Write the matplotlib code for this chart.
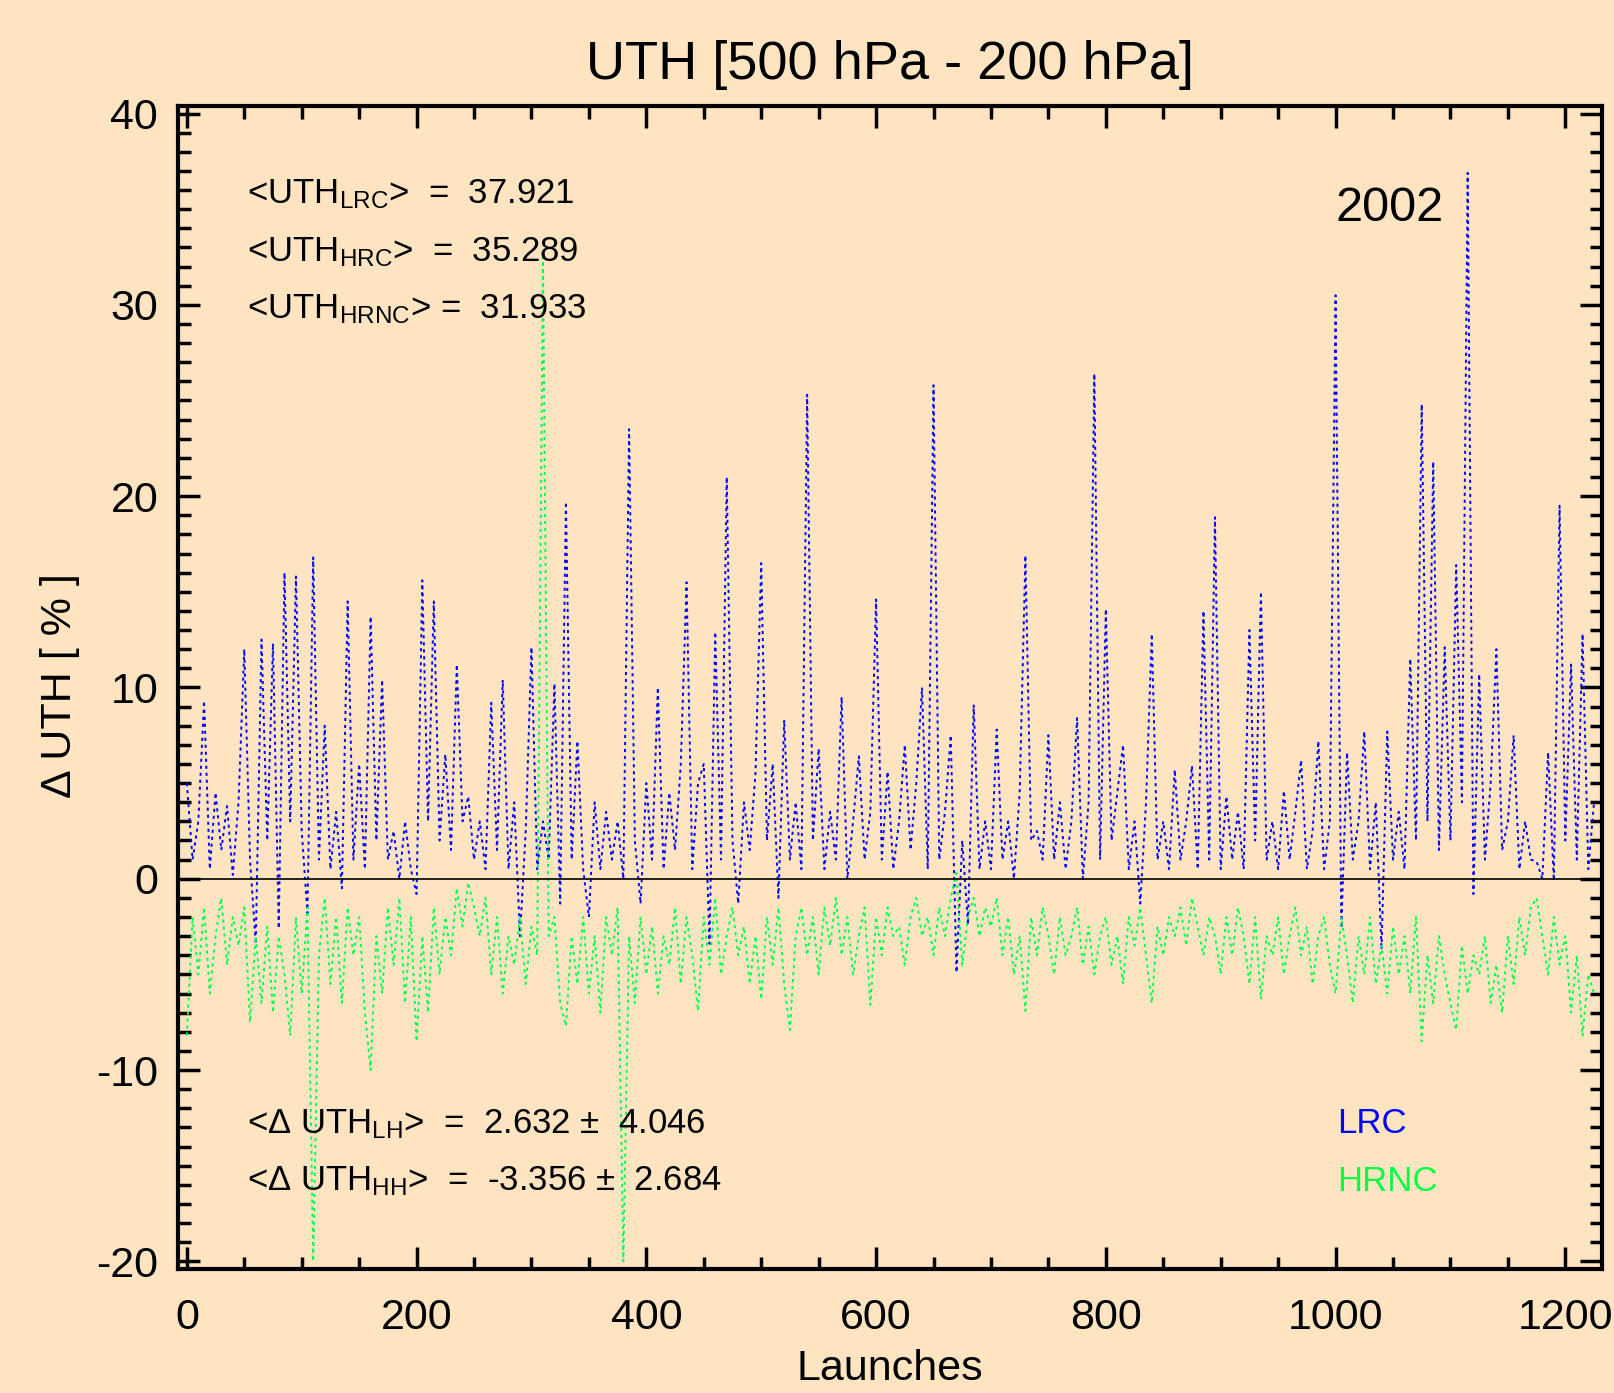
import numpy as np
import matplotlib.pyplot as plt
from matplotlib.ticker import MultipleLocator

plt.rcParams['font.family'] = ['Liberation Sans Narrow', 'Liberation Sans', 'DejaVu Sans']
plt.rcParams['mathtext.default'] = 'regular'
plt.rcParams['axes.unicode_minus'] = False

# Delta UTH (LRC - H), one value every 5 launches
d_lrc = [
    5.0, 1.0, 3.0, 9.3, 0.5, 4.5, 1.5, 3.8, 0.2, 4.0,
    12.0, 1.0, -3.4, 12.5, 2.0, 12.3, -2.6, 16.0, 3.0, 15.8,
    2.5, -1.8, 16.8, 1.0, 8.0, 0.5, 3.5, -0.5, 14.5, 1.0,
    6.0, 0.5, 13.7, 2.0, 10.4, 1.0, 2.5, 0.0, 3.0, 0.5,
    -0.8, 15.6, 3.0, 14.5, 2.0, 6.5, 1.5, 11.2, 3.0, 4.3,
    1.0, 3.0, 0.5, 9.2, 1.5, 10.4, 0.5, 4.0, -3.0, 2.5,
    12.1, 0.5, 3.0, 1.0, 10.2, -1.3, 19.7, 1.0, 7.2, 0.5,
    -2.0, 4.0, 0.5, 3.5, 1.0, 3.0, 0.0, 23.5, 2.0, -1.3,
    5.0, 1.0, 10.0, 0.5, 4.5, 1.5, 6.0, 15.5, 0.5, 5.0,
    6.0, -3.4, 12.9, 1.0, 21.0, 2.0, -1.3, 4.0, 1.5, 5.5,
    16.5, 2.0, 6.0, -1.0, 8.3, 1.0, 4.0, 0.5, 25.3, 2.0,
    6.8, 0.5, 3.5, 1.0, 9.5, 0.0, 3.0, 6.4, 1.0, 3.5,
    14.6, 1.0, 5.6, 0.5, 3.0, 7.0, 1.5, 5.0, 10.0, 0.5,
    25.8, 1.0, 3.5, 7.5, -4.9, 2.0, -2.4, 9.1, 0.5, 3.0,
    0.5, 7.8, 1.0, 3.0, 0.0, 4.5, 16.9, 2.0, 2.5, 1.0,
    7.5, 1.0, 4.0, 0.5, 3.0, 8.4, 0.0, 4.0, 26.4, 1.0,
    14.1, 2.0, 4.5, 7.0, 0.5, 3.0, -1.3, 4.0, 12.8, 1.0,
    3.0, 0.5, 5.7, 1.0, 3.0, 5.9, 0.5, 14.0, 1.0, 18.9,
    0.5, 4.3, 1.0, 3.5, 0.5, 13.0, 2.0, 15.0, 1.0, 3.0,
    0.5, 4.6, 1.0, 3.5, 6.2, 0.5, 2.5, 7.2, 0.5, 3.0,
    30.5, -2.6, 6.6, 1.0, 3.0, 7.7, 0.5, 4.0, -3.7, 7.7,
    1.0, 3.5, 0.5, 11.5, 2.0, 24.8, 3.0, 21.8, 1.5, 12.1,
    2.0, 16.4, 4.0, 36.9, -0.8, 10.7, 1.0, 5.0, 12.0, 1.5,
    3.0, 7.5, 0.5, 3.0, 1.0, 0.9, 0.0, 6.6, -0.1, 19.5,
    2.0, 11.2, 1.0, 12.8, 0.5, 4.0,
]

# Delta UTH (HRNC - H)
d_hrnc = [
    -8.2, -2.0, -5.0, -1.5, -6.0, -3.0, -1.0, -4.5, -2.0, -3.5,
    -1.5, -7.5, -3.0, -6.5, -2.5, -7.0, -3.0, -5.0, -8.2, -2.0,
    -6.0, -1.5, -20.0, -4.0, -1.0, -5.5, -2.0, -6.5, -1.5, -4.0,
    -2.0, -7.0, -10.0, -3.0, -6.0, -1.5, -4.5, -1.0, -6.5, -2.0,
    -8.5, -3.0, -7.0, -1.5, -5.0, -2.0, -4.0, -0.5, -2.5, -0.2,
    -1.5, -3.0, -1.0, -5.0, -2.0, -6.0, -3.0, -4.5, -2.0, -5.5,
    -2.5, -4.0, 32.5, -3.0, -2.0, -6.5, -7.7, -3.0, -5.5, -2.0,
    -6.0, -3.0, -7.0, -2.0, -4.0, -1.5, -20.0, -3.0, -6.5, -2.0,
    -5.0, -2.5, -6.0, -3.0, -4.5, -1.5, -5.5, -2.0, -4.0, -6.9,
    -2.0, -4.5, -1.0, -5.0, -3.0, -1.5, -4.0, -2.5, -5.5, -3.0,
    -6.3, -2.0, -4.5, -1.5, -5.5, -7.9, -3.0, -1.5, -4.0, -2.0,
    -5.0, -1.5, -3.5, -1.0, -4.0, -2.0, -5.0, -3.0, -1.5, -6.6,
    -2.0, -4.0, -1.5, -3.0, -2.5, -4.5, -2.0, -1.0, -3.0, -2.0,
    -4.0, -1.5, -3.0, -1.0, 0.3, -4.5, -2.0, -1.0, -3.0, -1.5,
    -2.5, -1.0, -4.0, -2.0, -5.0, -3.0, -6.9, -2.0, -4.0, -1.5,
    -3.0, -5.0, -2.0, -4.0, -3.0, -1.5, -4.5, -2.5, -5.0, -3.0,
    -2.0, -4.5, -3.0, -5.5, -2.0, -3.5, -1.5, -4.0, -6.5, -2.5,
    -4.0, -2.0, -3.0, -1.5, -3.5, -1.0, -2.5, -4.0, -2.0, -3.0,
    -5.0, -2.0, -4.0, -1.5, -3.0, -5.5, -2.0, -6.3, -3.0, -4.0,
    -2.0, -5.0, -3.0, -1.5, -4.0, -2.5, -5.5, -3.0, -2.0, -4.5,
    -6.0, -2.0, -4.0, -6.5, -3.0, -5.0, -2.0, -5.5, -3.5, -6.0,
    -2.5, -5.0, -3.0, -6.0, -2.0, -8.5, -4.0, -6.5, -3.0, -5.0,
    -6.5, -7.9, -3.5, -6.0, -4.0, -5.0, -3.0, -6.5, -4.5, -7.0,
    -3.0, -5.5, -2.0, -4.0, -1.5, -1.0, -3.0, -5.0, -2.0, -4.5,
    -3.0, -7.0, -4.0, -8.2, -5.0, -6.0,
]

launches = np.arange(len(d_lrc)) * 5

stats_top = ['<UTH$_{LRC}$>  =  37.921',
             '<UTH$_{HRC}$>  =  35.289',
             '<UTH$_{HRNC}$> =  31.933']
stats_bot = ['<\u0394 UTH$_{LH}$>  =  2.632 \u00b1  4.046',
             '<\u0394 UTH$_{HH}$>  =  -3.356 \u00b1  2.684']

bg = '#ffe4c2'
blue = '#0000ff'
green = '#00ff50'

fig = plt.figure(figsize=(16.15, 13.93), dpi=100, facecolor=bg)
ax = fig.add_axes([0.110, 0.089, 0.882, 0.835])
ax.set_facecolor(bg)

ax.plot(launches, d_lrc, color=blue, lw=1.4, linestyle=(0, (1.6, 2.0)))
ax.plot(launches, d_hrnc, color=green, lw=1.4, linestyle=(0, (1.6, 2.0)))
ax.axhline(0, color='black', lw=1.2, zorder=5)

ax.set_xlim(-8, 1232)
ax.set_ylim(-20.4, 40.4)
ax.xaxis.set_major_locator(MultipleLocator(200))
ax.xaxis.set_minor_locator(MultipleLocator(50))
ax.yaxis.set_major_locator(MultipleLocator(10))
ax.yaxis.set_minor_locator(MultipleLocator(1))
ax.tick_params(which='both', direction='in', top=True, right=True, width=2.5,
               labelsize=31)
ax.tick_params(which='major', length=16, pad=14)
ax.tick_params(axis='x', which='major', pad=21)
ax.tick_params(which='minor', length=9)
for s in ax.spines.values():
    s.set_linewidth(3)

ax.set_title('UTH [500 hPa - 200 hPa]', fontsize=39, pad=19)
ax.set_xlabel('Launches', fontsize=31, labelpad=8)
fig.text(0.037, 0.508, '\u0394 UTH [ % ]', fontsize=31, rotation=90,
         ha='center', va='center')

for i, t in enumerate(stats_top):
    ax.text(52, 35.3 - 3.0 * i, t, fontsize=25)
for i, t in enumerate(stats_bot):
    ax.text(52, -13.3 - 3.0 * i, t, fontsize=25)

ax.text(1000, 34.4, '2002', fontsize=35)
ax.text(1001, -13.3, 'LRC', fontsize=25, color=blue)
ax.text(1001, -16.3, 'HRNC', fontsize=25, color='#00ff44')

plt.savefig('out.png', dpi=100, facecolor=bg)
